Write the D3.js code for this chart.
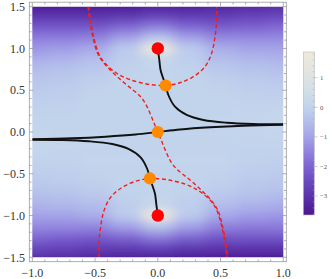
<!DOCTYPE html>
<html><head><meta charset="utf-8">
<script src="https://cdn.jsdelivr.net/npm/d3@7"></script>
<style>body{margin:0;background:#fff}svg{display:block}</style>
</head><body>
<svg id="chart" width="332" height="279"></svg>
<script>
// ---------- data ----------
const xNodes = [-1,-0.75,-0.5,-0.25,0,0.25,0.5,0.75,1];
const yNodes = [1.5,1.375,1.25,1.125,1,0.875,0.75,0.625,0.5,0.375,0.25,0.125,0,
                -0.125,-0.25,-0.375,-0.5,-0.625,-0.75,-0.875,-1,-1.125,-1.25,-1.375,-1.5];
const fieldValues = [
  [-3.5,-3.5,-3.5,-3.5,-3.4,-3.4,-3.3,-3.2,-3.1],
  [-2.9,-2.9,-2.9,-2.8,-2.6,-2.7,-2.7,-2.6,-2.5],
  [-2.2,-2.2,-2.2,-1.9,-1.5,-1.9,-2.1,-2.0,-1.9],
  [-1.6,-1.6,-1.5,-1.0,-0.3,-1.0,-1.4,-1.4,-1.4],
  [-1.2,-1.1,-0.9,-0.2,1.8,-0.2,-0.8,-1.0,-1.0],
  [-0.8,-0.7,-0.5,-0.15,0.15,-0.15,-0.5,-0.6,-0.7],
  [-0.5,-0.4,-0.25,-0.05,0.05,-0.05,-0.25,-0.4,-0.45],
  [-0.3,-0.25,-0.1,0.0,0.05,0.0,-0.1,-0.2,-0.25],
  [-0.2,-0.15,-0.05,0.0,0.0,0.0,-0.05,-0.1,-0.15],
  [-0.1,-0.08,0.0,0.0,0.0,0.0,0.0,-0.05,-0.05],
  [-0.05,-0.03,0.0,0.0,0.0,0.0,0.0,0.0,0.05],
  [0.0,0.0,0.0,0.0,0.0,0.0,0.05,0.1,0.15],
  [0.05,0.0,0.0,0.0,0.0,0.0,0.0,0.0,0.05],
  [0.15,0.1,0.05,0.0,0.0,0.0,0.0,0.0,0.0],
  [0.05,0.0,0.0,0.0,0.0,0.0,0.0,-0.03,-0.05],
  [-0.05,-0.05,0.0,0.0,0.0,0.0,0.0,-0.08,-0.1],
  [-0.15,-0.1,-0.05,0.0,0.0,0.0,-0.05,-0.15,-0.2],
  [-0.25,-0.2,-0.1,0.0,0.05,0.0,-0.1,-0.25,-0.3],
  [-0.45,-0.4,-0.25,-0.05,0.05,-0.05,-0.25,-0.4,-0.5],
  [-0.7,-0.6,-0.5,-0.15,0.15,-0.15,-0.5,-0.7,-0.8],
  [-1.0,-1.0,-0.8,-0.2,1.8,-0.2,-0.9,-1.1,-1.2],
  [-1.4,-1.4,-1.4,-1.0,-0.3,-1.0,-1.5,-1.6,-1.6],
  [-1.9,-2.0,-2.1,-1.9,-1.5,-1.9,-2.2,-2.2,-2.2],
  [-2.5,-2.6,-2.7,-2.7,-2.6,-2.8,-2.9,-2.9,-2.9],
  [-3.1,-3.2,-3.3,-3.4,-3.4,-3.5,-3.5,-3.5,-3.5]
];
const colorStops  = [-3.64,-3,-2.5,-2,-1.5,-1,-0.5,0,0.5,1,1.87];
const colorValues = ["#4a1890","#5b33ab","#6a4ac0","#7e64d2","#9083de","#a4a3e8",
                     "#b3bdeb","#c2d4ec","#d0dde8","#dde3e2","#efe9da"];
const xTicks = [-1,-0.5,0,0.5,1];
const yTicks = [-1.5,-1,-0.5,0,0.5,1,1.5];
const legendTicks = [1,0,-1,-2,-3];

const upperU = [[-0.550,1.5],[-0.537,1.341],[-0.511,1.141],[-0.472,0.943],[-0.425,0.830],
  [-0.327,0.703],[-0.222,0.627],[-0.088,0.575],[0.018,0.557],[0.063,0.556],[0.177,0.590],
  [0.283,0.662],[0.376,0.782],[0.429,0.943],[0.456,1.141],[0.469,1.341],[0.469,1.5]];
const lowerU = [[-0.469,-1.5],[-0.469,-1.341],[-0.456,-1.141],[-0.429,-0.943],[-0.376,-0.782],
  [-0.283,-0.662],[-0.177,-0.590],[-0.063,-0.556],[-0.018,-0.557],[0.088,-0.575],[0.222,-0.627],
  [0.327,-0.703],[0.425,-0.830],[0.472,-0.943],[0.511,-1.141],[0.537,-1.341],[0.550,-1.5]];
const centralDashed = [[-0.556,1.5],[-0.543,1.341],[-0.518,1.141],[-0.480,0.943],[-0.437,0.840],
  [-0.385,0.752],[-0.327,0.668],[-0.261,0.580],[-0.195,0.500],[-0.142,0.431],[-0.100,0.345],
  [-0.062,0.224],[-0.030,0.108],[0,0],[0.030,-0.108],[0.062,-0.224],[0.100,-0.345],
  [0.142,-0.431],[0.195,-0.500],[0.261,-0.580],[0.327,-0.668],[0.385,-0.752],[0.437,-0.840],
  [0.480,-0.943],[0.518,-1.141],[0.543,-1.341],[0.556,-1.5]];
const blackUpper = [[0,1.0],[0.012,0.862],[0.022,0.743],[0.039,0.659],[0.063,0.556],
  [0.084,0.443],[0.137,0.303],[0.230,0.204],[0.363,0.144],[0.549,0.111],[0.761,0.096],[1.0,0.092]];
const blackMiddle = [[-1,-0.086],[-0.681,-0.075],[-0.416,-0.056],[-0.177,-0.030],[0,0],
  [0.177,0.030],[0.416,0.056],[0.681,0.075],[1,0.086]];
const blackLower = [[0,-1.0],[-0.012,-0.862],[-0.022,-0.743],[-0.039,-0.659],[-0.063,-0.556],
  [-0.084,-0.443],[-0.137,-0.303],[-0.230,-0.204],[-0.363,-0.144],[-0.549,-0.111],[-0.761,-0.096],[-1.0,-0.092]];
const redPoints = [[0,1],[0,-1]];
const orangePoints = [[0.063,0.556],[0,0],[-0.063,-0.556]];

// ---------- drawing ----------
const svg = d3.select("#chart");
const x = d3.scaleLinear([-1,1],[32.3,283.3]);
const y = d3.scaleLinear([-1.5,1.5],[257.3,6.7]);
const color = d3.scaleLinear(colorStops, colorValues).interpolate(d3.interpolateLab).clamp(true);

const defs = svg.append("defs");
defs.append("clipPath").attr("id","plotclip").append("rect")
  .attr("x",x(-1)).attr("y",y(1.5)).attr("width",x(1)-x(-1)).attr("height",y(-1.5)-y(1.5));
const flt = defs.append("filter").attr("id","smooth")
  .attr("x","-10%").attr("y","-10%").attr("width","120%").attr("height","120%");
flt.append("feGaussianBlur").attr("stdDeviation","7 4");

const cw = x(0.25)-x(0), ch = y(0)-y(0.125);
const cells = [];
fieldValues.forEach((row,i)=>row.forEach((v,j)=>cells.push({i,j,v})));
const fieldG = svg.append("g").attr("clip-path","url(#plotclip)")
  .append("g").attr("filter","url(#smooth)");
fieldG.selectAll("rect").data(cells).join("rect")
  .attr("x",d=>x(xNodes[d.j])-cw/2-(d.j===0?20:0))
  .attr("y",d=>y(yNodes[d.i])-ch/2-(d.i===0?20:0))
  .attr("width",d=>cw+0.6+((d.j===0||d.j===xNodes.length-1)?20:0))
  .attr("height",d=>ch+0.6+((d.i===0||d.i===yNodes.length-1)?20:0))
  .attr("fill",d=>color(d.v));

// curves
const line = d3.line().x(d=>x(d[0])).y(d=>y(d[1])).curve(d3.curveCatmullRom.alpha(0.5));
const curveG = svg.append("g").attr("clip-path","url(#plotclip)");
[upperU, lowerU, centralDashed].forEach(c=>{
  curveG.append("path").attr("d",line(c)).attr("fill","none")
    .attr("stroke","#f0201c").attr("stroke-width",1.4).attr("stroke-dasharray","4,2.6");
});
[blackUpper, blackMiddle, blackLower].forEach(c=>{
  curveG.append("path").attr("d",line(c)).attr("fill","none")
    .attr("stroke","#111").attr("stroke-width",1.9);
});
svg.append("g").selectAll("circle").data(redPoints).join("circle")
  .attr("cx",d=>x(d[0])).attr("cy",d=>y(d[1])).attr("r",6.2).attr("fill","#ff0000");
svg.append("g").selectAll("circle").data(orangePoints).join("circle")
  .attr("cx",d=>x(d[0])).attr("cy",d=>y(d[1])).attr("r",6.1).attr("fill","#ff8a00");

// frame
const fL=29.3, fR=286.3, fT=2.2, fB=261.7;
const frame = svg.append("g").attr("stroke","#999").attr("stroke-width",0.8);
frame.append("rect").attr("x",fL).attr("y",fT).attr("width",fR-fL).attr("height",fB-fT).attr("fill","none");
const minorX = d3.range(-10,11).map(k=>k/10);
const minorY = d3.range(-15,16).map(k=>k/10);
const isMajor = v => Math.abs(v*2-Math.round(v*2))<1e-6;
minorX.forEach(v=>{
  const L = isMajor(v)?4:2.2;
  frame.append("line").attr("x1",x(v)).attr("x2",x(v)).attr("y1",fB).attr("y2",fB-L);
  frame.append("line").attr("x1",x(v)).attr("x2",x(v)).attr("y1",fT).attr("y2",fT+L);
});
minorY.forEach(v=>{
  const L = isMajor(v)?4:2.2;
  frame.append("line").attr("y1",y(v)).attr("y2",y(v)).attr("x1",fL).attr("x2",fL+L);
  frame.append("line").attr("y1",y(v)).attr("y2",y(v)).attr("x1",fR).attr("x2",fR-L);
});
const fmt = d3.format(".1f");
const labG = svg.append("g").attr("font-family","'Liberation Serif','Times New Roman',serif")
  .attr("font-size",12).attr("fill","#333");
labG.selectAll("text.xl").data(xTicks).join("text").attr("class","xl")
  .attr("x",d=>x(d)).attr("y",276.5).attr("text-anchor","middle").text(d=>fmt(d));
labG.selectAll("text.yl").data(yTicks).join("text").attr("class","yl")
  .attr("x",25).attr("y",d=>y(d)+4.2).attr("text-anchor","end").text(d=>fmt(d));

// colorbar
const lb = d3.scaleLinear([colorStops[0],colorStops[colorStops.length-1]],[215,52]);
const grad = defs.append("linearGradient").attr("id","cbar")
  .attr("x1",0).attr("y1",1).attr("x2",0).attr("y2",0);
d3.range(0,1.0001,0.05).forEach(t=>{
  const v = colorStops[0]+t*(colorStops[colorStops.length-1]-colorStops[0]);
  grad.append("stop").attr("offset",t).attr("stop-color",color(v));
});
svg.append("rect").attr("x",303.3).attr("y",52).attr("width",11).attr("height",163)
  .attr("fill","url(#cbar)").attr("stroke","#bbb").attr("stroke-width",0.6);
const lgT = svg.append("g").attr("stroke","#aaa").attr("stroke-width",0.6);
d3.range(-3.6,1.81,0.2).forEach(v=>{
  lgT.append("line").attr("x1",314.3-1.5).attr("x2",314.3).attr("y1",lb(v)).attr("y2",lb(v));
});
legendTicks.forEach(v=>{
  lgT.append("line").attr("x1",314.3).attr("x2",317.5).attr("y1",lb(v)).attr("y2",lb(v));
});
svg.append("g").attr("font-family","'Liberation Serif','Times New Roman',serif")
  .attr("font-size",6.8).attr("fill","#555")
  .selectAll("text").data(legendTicks).join("text")
  .attr("x",320).attr("y",d=>lb(d)+2.3).text(d=>d3.format("d")(d));
</script>
</body></html>
